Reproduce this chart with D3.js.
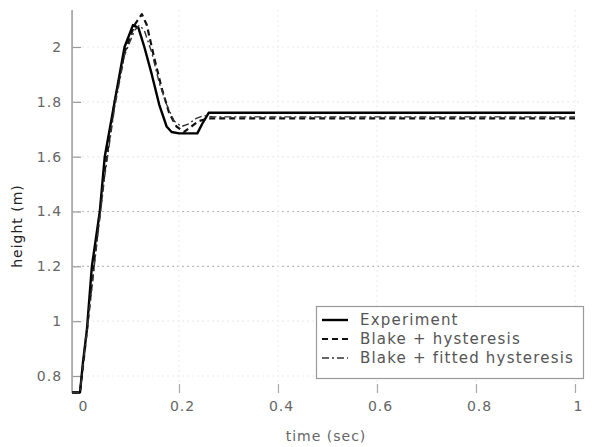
<!DOCTYPE html>
<html>
<head>
<meta charset="utf-8">
<script src="https://cdn.jsdelivr.net/npm/d3@7"></script>
<style>
  body { margin: 0; background: #fff; }
  svg { display: block; }
  text { font-family: "DejaVu Sans", Verdana, sans-serif; letter-spacing: 1px; }
</style>
</head>
<body>
<svg id="chart" width="597" height="447"></svg>
<script>
// Step response: measured height vs. two model variants
const experimentT = [-0.016, 0, 0.006, 0.014, 0.024, 0.04, 0.05, 0.07, 0.09, 0.107, 0.118, 0.13, 0.145, 0.16, 0.175, 0.185, 0.2, 0.237, 0.247, 0.26, 1.0];
const experimentV = [0.74, 0.74, 0.85, 0.97, 1.2, 1.4, 1.6, 1.8, 2.0, 2.08, 2.07, 2.0, 1.9, 1.79, 1.71, 1.69, 1.685, 1.685, 1.72, 1.76, 1.76];

const hysteresisT = [-0.016, 0, 0.01, 0.03, 0.05, 0.07, 0.09, 0.11, 0.125, 0.135, 0.15, 0.165, 0.18, 0.195, 0.21, 0.225, 0.24, 0.26, 1.0];
const hysteresisV = [0.74, 0.74, 0.9, 1.24, 1.55, 1.8, 1.98, 2.08, 2.12, 2.08, 1.96, 1.85, 1.76, 1.71, 1.69, 1.71, 1.73, 1.74, 1.74];

const fittedT = [-0.016, 0, 0.01, 0.03, 0.05, 0.07, 0.09, 0.11, 0.12, 0.13, 0.145, 0.16, 0.175, 0.19, 0.205, 0.22, 0.235, 0.25, 0.27, 1.0];
const fittedV = [0.74, 0.74, 0.9, 1.22, 1.53, 1.78, 1.97, 2.06, 2.08, 2.06, 1.98, 1.87, 1.79, 1.73, 1.71, 1.72, 1.74, 1.75, 1.745, 1.745];

const xTicks = [0, 0.2, 0.4, 0.6, 0.8, 1];
const xTickLabels = ["0", "0.2", "0.4", "0.6", "0.8", "1"];
const yTicks = [0.8, 1, 1.2, 1.4, 1.6, 1.8, 2];
const yTickLabels = ["0.8", "1", "1.2", "1.4", "1.6", "1.8", "2"];

const seriesNames = ["Experiment", "Blake + hysteresis", "Blake + fitted hysteresis"];
const xLabel = "time (sec)";
const yLabel = "height (m)";

const svg = d3.select("#chart");
const x = d3.scaleLinear().domain([0, 1]).range([80, 575]);
const y = d3.scaleLinear().domain([0.8, 2]).range([376, 47]);
const xMin = -0.016, yMin = 0.738, yMax = 2.135;
const plotLeft = x(xMin), plotBottom = y(yMin), plotTop = y(yMax), plotRight = x(1) + 5;

// grid
const grid = svg.append("g");
grid.selectAll("line.gy").data(yTicks).join("line")
  .attr("x1", plotLeft).attr("x2", plotRight)
  .attr("y1", d => y(d)).attr("y2", d => y(d))
  .attr("stroke", d => (d === 1.2 || d === 1.4) ? "#b8b8b8" : "#ececec")
  .attr("stroke-width", 1.2)
  .attr("stroke-dasharray", "2,3");
grid.selectAll("line.gx").data(xTicks.filter(d => d > 0)).join("line")
  .attr("x1", d => x(d)).attr("x2", d => x(d))
  .attr("y1", plotTop).attr("y2", plotBottom)
  .attr("stroke", "#efefef")
  .attr("stroke-width", 1.2)
  .attr("stroke-dasharray", "2,3");

// y axis
const yAxis = d3.axisLeft(y).tickValues(yTicks)
  .tickFormat((d, i) => yTickLabels[i]).tickSize(-9).tickPadding(10);
const gy = svg.append("g").attr("transform", `translate(${plotLeft},0)`).call(yAxis);
gy.select(".domain").remove();
gy.append("line").attr("x1", 0).attr("x2", 0).attr("y1", plotTop).attr("y2", plotBottom)
  .attr("stroke", "#aaa").attr("stroke-width", 1.8);
gy.append("line").attr("x1", 0).attr("x2", x(0) - plotLeft).attr("y1", plotBottom).attr("y2", plotBottom)
  .attr("stroke", "#aaa").attr("stroke-width", 1.5);
gy.selectAll(".tick line").attr("stroke", "#999").attr("stroke-width", 1.2);
gy.selectAll(".tick text").attr("fill", "#666").style("font-size", "14px");

// x axis (ticks only)
const xAxis = d3.axisBottom(x).tickValues(xTicks)
  .tickFormat((d, i) => xTickLabels[i]).tickSize(-9).tickPadding(8);
const gx = svg.append("g").attr("transform", `translate(0,${plotBottom})`).call(xAxis);
gx.select(".domain").remove();
gx.selectAll(".tick line").attr("stroke", "#aaa").attr("stroke-width", 1.2);
gx.selectAll(".tick text").attr("fill", "#666").attr("dx", 3).style("font-size", "14px");

svg.append("text").attr("x", 326).attr("y", 441).attr("text-anchor", "middle")
  .attr("fill", "#666").style("font-size", "14px").text(xLabel);
svg.append("text").attr("transform", "translate(22,226) rotate(-90)").attr("text-anchor", "middle")
  .attr("fill", "#222").style("font-size", "14px").text(yLabel);

// curves
const line = d3.line().x(d => x(d[0])).y(d => y(d[1]));
const styles = [
  { width: 2.4, dash: null, color: "#000" },
  { width: 2.2, dash: "6,4", color: "#111" },
  { width: 1.4, dash: "7,3,2,3", color: "#333" }
];
const series = [
  d3.zip(experimentT, experimentV),
  d3.zip(hysteresisT, hysteresisV),
  d3.zip(fittedT, fittedV)
];
svg.append("g").selectAll("path").data(series).join("path")
  .attr("d", line)
  .attr("fill", "none")
  .attr("stroke", (d, i) => styles[i].color)
  .attr("stroke-width", (d, i) => styles[i].width)
  .attr("stroke-dasharray", (d, i) => styles[i].dash)
  .attr("stroke-linejoin", "round");

// legend
const lg = svg.append("g");
lg.append("rect").attr("x", 316.5).attr("y", 306.5).attr("width", 267).attr("height", 72)
  .attr("fill", "#fff").attr("stroke", "#999").attr("stroke-width", 1.2);
seriesNames.forEach((name, i) => {
  const yy = 320 + i * 19;
  lg.append("line").attr("x1", 322).attr("x2", 348).attr("y1", yy).attr("y2", yy)
    .attr("stroke", styles[i].color).attr("stroke-width", styles[i].width)
    .attr("stroke-dasharray", styles[i].dash);
  lg.append("text").attr("x", 360).attr("y", yy + 5).attr("fill", "#555")
    .style("font-size", "15px").style("letter-spacing", "1.2px").text(name);
});
</script>
</body>
</html>
